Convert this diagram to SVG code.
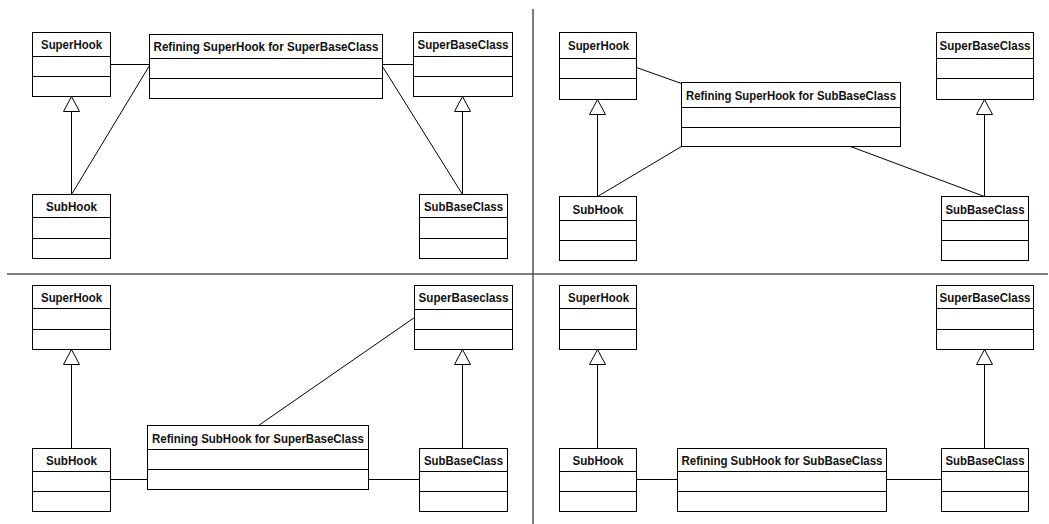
<svg xmlns="http://www.w3.org/2000/svg" width="1049" height="524" viewBox="0 0 1049 524">
  <style>
    .box { fill: #fff; stroke: #000; stroke-width: 1; }
    .sep { stroke: #000; stroke-width: 1.2; }
    .lbl { font-family: "Liberation Sans", Arial, Helvetica, sans-serif; font-weight: bold; font-size: 12.5px; fill: #111; text-anchor: middle; }
    .assoc { stroke: #000; stroke-width: 1; fill: none; }
    .gen { fill: #fff; stroke: #000; stroke-width: 1; }
    .frame { stroke: #555; stroke-width: 1.5; }
  </style>

  <rect width="1049" height="524" fill="#fff"/>

  <!-- quadrant separators -->
  <g id="frame">
    <line class="frame" x1="533" y1="9" x2="533" y2="524"/>
    <line class="frame" x1="7" y1="274" x2="1048" y2="274"/>
  </g>

  <g transform="translate(0.5,0.5)">
    <!-- connectors: generalisations and associations -->
    <g id="connectors">
      <!-- top-left -->
      <line class="assoc" x1="71" y1="111" x2="71" y2="194"/>
      <polygon class="gen" points="71,96 63,111 79,111"/>
      <line class="assoc" x1="462" y1="111" x2="462" y2="194"/>
      <polygon class="gen" points="462,96 454,111 470,111"/>
      <line class="assoc" x1="110" y1="64" x2="149" y2="64"/>
      <line class="assoc" x1="149" y1="65" x2="71" y2="194"/>
      <line class="assoc" x1="382" y1="64" x2="413" y2="64"/>
      <line class="assoc" x1="382" y1="66" x2="462" y2="194"/>

      <!-- top-right -->
      <line class="assoc" x1="597" y1="114" x2="597" y2="196"/>
      <polygon class="gen" points="597,99 589,114 605,114"/>
      <line class="assoc" x1="984" y1="114" x2="984" y2="196"/>
      <polygon class="gen" points="984,99 976,114 992,114"/>
      <line class="assoc" x1="636" y1="67" x2="681" y2="83"/>
      <line class="assoc" x1="681" y1="146" x2="597" y2="196"/>
      <line class="assoc" x1="850" y1="146" x2="984" y2="196"/>

      <!-- bottom-left -->
      <line class="assoc" x1="71" y1="364" x2="71" y2="448"/>
      <polygon class="gen" points="71,349 63,364 79,364"/>
      <line class="assoc" x1="462" y1="364" x2="462" y2="448"/>
      <polygon class="gen" points="462,349 454,364 470,364"/>
      <line class="assoc" x1="110" y1="479" x2="147" y2="479"/>
      <line class="assoc" x1="368" y1="479" x2="419" y2="479"/>
      <line class="assoc" x1="414" y1="317" x2="258" y2="425"/>

      <!-- bottom-right -->
      <line class="assoc" x1="597" y1="364" x2="597" y2="448"/>
      <polygon class="gen" points="597,349 589,364 605,364"/>
      <line class="assoc" x1="984" y1="364" x2="984" y2="448"/>
      <polygon class="gen" points="984,349 976,364 992,364"/>
      <line class="assoc" x1="636" y1="479" x2="677" y2="479"/>
      <line class="assoc" x1="886" y1="479" x2="941" y2="479"/>
    </g>

    <!-- top-left: Refining SuperHook for SuperBaseClass -->
    <g id="q1-superhook">
      <rect class="box" x="32" y="32" width="78" height="64"/>
      <line class="sep" x1="32" y1="56" x2="110" y2="56"/>
      <line class="sep" x1="32" y1="76" x2="110" y2="76"/>
      <text class="lbl" x="71" y="48.5" textLength="61" lengthAdjust="spacingAndGlyphs">SuperHook</text>
    </g>
    <g id="q1-refining">
      <rect class="box" x="149" y="34" width="233" height="64"/>
      <line class="sep" x1="149" y1="58" x2="382" y2="58"/>
      <line class="sep" x1="149" y1="78" x2="382" y2="78"/>
      <text class="lbl" x="265.5" y="50.5" textLength="225" lengthAdjust="spacingAndGlyphs">Refining SuperHook for SuperBaseClass</text>
    </g>
    <g id="q1-superbaseclass">
      <rect class="box" x="413" y="32" width="99" height="64"/>
      <line class="sep" x1="413" y1="56" x2="512" y2="56"/>
      <line class="sep" x1="413" y1="76" x2="512" y2="76"/>
      <text class="lbl" x="462.5" y="48.5" textLength="91" lengthAdjust="spacingAndGlyphs">SuperBaseClass</text>
    </g>
    <g id="q1-subhook">
      <rect class="box" x="32" y="194" width="78" height="64"/>
      <line class="sep" x1="32" y1="217" x2="110" y2="217"/>
      <line class="sep" x1="32" y1="238" x2="110" y2="238"/>
      <text class="lbl" x="71" y="210.5" textLength="51" lengthAdjust="spacingAndGlyphs">SubHook</text>
    </g>
    <g id="q1-subbaseclass">
      <rect class="box" x="419" y="194" width="88" height="64"/>
      <line class="sep" x1="419" y1="217" x2="507" y2="217"/>
      <line class="sep" x1="419" y1="238" x2="507" y2="238"/>
      <text class="lbl" x="463" y="210.5" textLength="79" lengthAdjust="spacingAndGlyphs">SubBaseClass</text>
    </g>

    <!-- top-right: Refining SuperHook for SubBaseClass -->
    <g id="q2-superhook">
      <rect class="box" x="559" y="32" width="77" height="67"/>
      <line class="sep" x1="559" y1="58" x2="636" y2="58"/>
      <line class="sep" x1="559" y1="78" x2="636" y2="78"/>
      <text class="lbl" x="598" y="49.5" textLength="61" lengthAdjust="spacingAndGlyphs">SuperHook</text>
    </g>
    <g id="q2-superbaseclass">
      <rect class="box" x="936" y="32" width="97" height="67"/>
      <line class="sep" x1="936" y1="58" x2="1033" y2="58"/>
      <line class="sep" x1="936" y1="78" x2="1033" y2="78"/>
      <text class="lbl" x="984.5" y="49.5" textLength="91" lengthAdjust="spacingAndGlyphs">SuperBaseClass</text>
    </g>
    <g id="q2-refining">
      <rect class="box" x="681" y="82" width="219" height="64"/>
      <line class="sep" x1="681" y1="107" x2="900" y2="107"/>
      <line class="sep" x1="681" y1="127" x2="900" y2="127"/>
      <text class="lbl" x="790.5" y="99" textLength="210" lengthAdjust="spacingAndGlyphs">Refining SuperHook for SubBaseClass</text>
    </g>
    <g id="q2-subhook">
      <rect class="box" x="559" y="196" width="77" height="64"/>
      <line class="sep" x1="559" y1="220" x2="636" y2="220"/>
      <line class="sep" x1="559" y1="240" x2="636" y2="240"/>
      <text class="lbl" x="597.5" y="213" textLength="51" lengthAdjust="spacingAndGlyphs">SubHook</text>
    </g>
    <g id="q2-subbaseclass">
      <rect class="box" x="941" y="196" width="87" height="64"/>
      <line class="sep" x1="941" y1="220" x2="1028" y2="220"/>
      <line class="sep" x1="941" y1="240" x2="1028" y2="240"/>
      <text class="lbl" x="984.5" y="213" textLength="79" lengthAdjust="spacingAndGlyphs">SubBaseClass</text>
    </g>

    <!-- bottom-left: Refining SubHook for SuperBaseClass -->
    <g id="q3-superhook">
      <rect class="box" x="32" y="285" width="78" height="64"/>
      <line class="sep" x1="32" y1="308" x2="110" y2="308"/>
      <line class="sep" x1="32" y1="329" x2="110" y2="329"/>
      <text class="lbl" x="71" y="301.5" textLength="61" lengthAdjust="spacingAndGlyphs">SuperHook</text>
    </g>
    <g id="q3-superbaseclass">
      <rect class="box" x="414" y="285" width="98" height="64"/>
      <line class="sep" x1="414" y1="309" x2="512" y2="309"/>
      <line class="sep" x1="414" y1="329" x2="512" y2="329"/>
      <text class="lbl" x="463" y="301.5" textLength="90" lengthAdjust="spacingAndGlyphs">SuperBaseclass</text>
    </g>
    <g id="q3-refining">
      <rect class="box" x="147" y="425" width="221" height="64"/>
      <line class="sep" x1="147" y1="449" x2="368" y2="449"/>
      <line class="sep" x1="147" y1="469" x2="368" y2="469"/>
      <text class="lbl" x="257.5" y="442" textLength="212" lengthAdjust="spacingAndGlyphs">Refining SubHook for SuperBaseClass</text>
    </g>
    <g id="q3-subhook">
      <rect class="box" x="32" y="448" width="78" height="63"/>
      <line class="sep" x1="32" y1="471" x2="110" y2="471"/>
      <line class="sep" x1="32" y1="491" x2="110" y2="491"/>
      <text class="lbl" x="71" y="464.5" textLength="51" lengthAdjust="spacingAndGlyphs">SubHook</text>
    </g>
    <g id="q3-subbaseclass">
      <rect class="box" x="419" y="448" width="88" height="63"/>
      <line class="sep" x1="419" y1="471" x2="507" y2="471"/>
      <line class="sep" x1="419" y1="491" x2="507" y2="491"/>
      <text class="lbl" x="463" y="464.5" textLength="79" lengthAdjust="spacingAndGlyphs">SubBaseClass</text>
    </g>

    <!-- bottom-right: Refining SubHook for SubBaseClass -->
    <g id="q4-superhook">
      <rect class="box" x="559" y="285" width="77" height="64"/>
      <line class="sep" x1="559" y1="308" x2="636" y2="308"/>
      <line class="sep" x1="559" y1="329" x2="636" y2="329"/>
      <text class="lbl" x="598" y="301.5" textLength="61" lengthAdjust="spacingAndGlyphs">SuperHook</text>
    </g>
    <g id="q4-superbaseclass">
      <rect class="box" x="936" y="285" width="97" height="64"/>
      <line class="sep" x1="936" y1="308" x2="1033" y2="308"/>
      <line class="sep" x1="936" y1="329" x2="1033" y2="329"/>
      <text class="lbl" x="984.5" y="301.5" textLength="91" lengthAdjust="spacingAndGlyphs">SuperBaseClass</text>
    </g>
    <g id="q4-subhook">
      <rect class="box" x="559" y="448" width="77" height="63"/>
      <line class="sep" x1="559" y1="471" x2="636" y2="471"/>
      <line class="sep" x1="559" y1="491" x2="636" y2="491"/>
      <text class="lbl" x="597.5" y="464.5" textLength="51" lengthAdjust="spacingAndGlyphs">SubHook</text>
    </g>
    <g id="q4-refining">
      <rect class="box" x="677" y="448" width="209" height="63"/>
      <line class="sep" x1="677" y1="471" x2="886" y2="471"/>
      <line class="sep" x1="677" y1="491" x2="886" y2="491"/>
      <text class="lbl" x="781.5" y="464.5" textLength="201" lengthAdjust="spacingAndGlyphs">Refining SubHook for SubBaseClass</text>
    </g>
    <g id="q4-subbaseclass">
      <rect class="box" x="941" y="448" width="87" height="63"/>
      <line class="sep" x1="941" y1="471" x2="1028" y2="471"/>
      <line class="sep" x1="941" y1="491" x2="1028" y2="491"/>
      <text class="lbl" x="984.5" y="464.5" textLength="79" lengthAdjust="spacingAndGlyphs">SubBaseClass</text>
    </g>
  </g>
</svg>
